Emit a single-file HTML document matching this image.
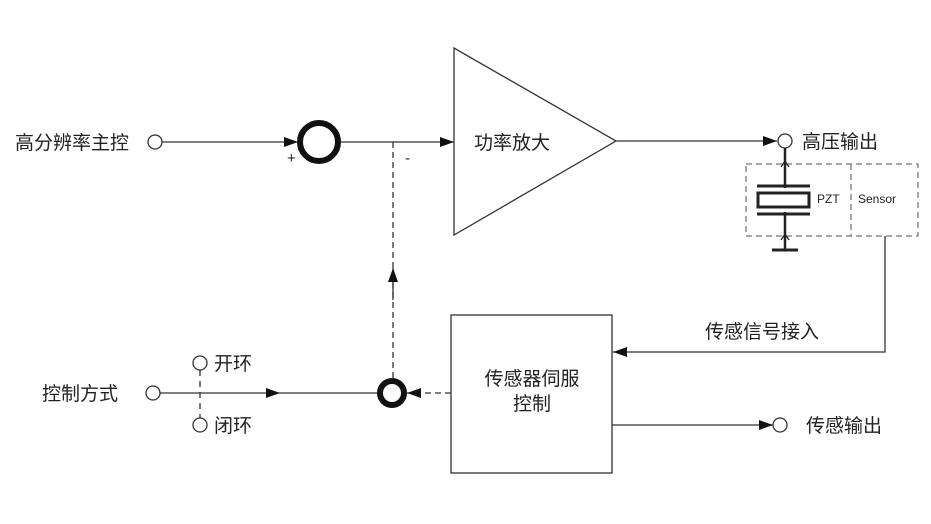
<!DOCTYPE html>
<html><head><meta charset="utf-8"><style>
html,body{margin:0;padding:0;background:#fff;}
svg{display:block;}
text{font-family:"Liberation Sans","Noto Sans CJK SC",sans-serif;fill:#222;}
</style></head><body>
<svg width="931" height="524" viewBox="0 0 931 524" xmlns="http://www.w3.org/2000/svg">
<defs>
<marker id="a" markerWidth="14" markerHeight="10" refX="14" refY="5" orient="auto" markerUnits="userSpaceOnUse">
<path d="M0,0 L14,5 L0,10 Z" fill="#111"/></marker>
</defs>
<g stroke="#333" stroke-width="1.3" fill="none">
<circle cx="155" cy="142" r="7" fill="#fff"/>
<line x1="162" y1="142" x2="298" y2="142" marker-end="url(#a)"/>
<line x1="341" y1="142" x2="454" y2="142" marker-end="url(#a)"/>
<polygon points="454,48 454,235 616,141" fill="#fff"/>
<line x1="616" y1="141" x2="777" y2="141" marker-end="url(#a)"/>
<circle cx="785" cy="141" r="7" fill="#fff"/>
<line x1="393" y1="142" x2="393" y2="379" stroke-dasharray="6,4"/>
<line x1="393" y1="300" x2="393" y2="268" marker-end="url(#a)"/>
<line x1="451" y1="393" x2="407" y2="393" stroke-dasharray="6,4" marker-end="url(#a)"/>
<rect x="746" y="164" width="172" height="72" stroke="#777" stroke-dasharray="6,4"/>
<line x1="851" y1="164" x2="851" y2="236" stroke="#777" stroke-dasharray="6,4"/>
<line x1="785" y1="148" x2="785" y2="188" stroke="#222" stroke-width="2.5"/>
<line x1="785" y1="212" x2="785" y2="250" stroke="#222" stroke-width="2.5"/>
<path d="M781,167 L785,161 L789,167 M781,240 L785,234 L789,240" stroke="#222"/>
<line x1="757" y1="186" x2="810" y2="186" stroke="#222" stroke-width="3"/>
<rect x="758" y="193" width="51" height="14" stroke="#222" stroke-width="3"/>
<line x1="757" y1="214" x2="810" y2="214" stroke="#222" stroke-width="3"/>
<line x1="772" y1="250" x2="798" y2="250" stroke="#222" stroke-width="3"/>
<polyline points="885,236 885,352 613,352" marker-end="url(#a)"/>
<rect x="451" y="315" width="161" height="158" fill="#fff"/>
<line x1="612" y1="425" x2="773" y2="425" marker-end="url(#a)"/>
<circle cx="780" cy="425" r="7" fill="#fff"/>
<circle cx="153" cy="393" r="7" fill="#fff"/>
<line x1="160" y1="393" x2="280" y2="393" marker-end="url(#a)"/>
<line x1="280" y1="393" x2="380" y2="393"/>
<circle cx="200" cy="363" r="7" fill="#fff"/>
<circle cx="200" cy="425" r="7" fill="#fff"/>
<line x1="200" y1="370" x2="200" y2="418" stroke-dasharray="6,5"/>
</g>
<circle cx="319" cy="142" r="19" fill="none" stroke="#111" stroke-width="6"/>
<circle cx="392" cy="393" r="12" fill="none" stroke="#111" stroke-width="6"/>
<g font-size="19">
<text x="15" y="149">高分辨率主控</text>
<text x="474" y="149">功率放大</text>
<text x="802" y="148">高压输出</text>
<text x="705" y="338">传感信号接入</text>
<text x="532" y="385" text-anchor="middle">传感器伺服</text>
<text x="532" y="410" text-anchor="middle">控制</text>
<text x="806" y="432">传感输出</text>
<text x="42" y="400">控制方式</text>
<text x="214" y="370">开环</text>
<text x="214" y="432">闭环</text>
</g>
<text x="817" y="203" font-size="12">PZT</text>
<text x="858" y="203" font-size="12">Sensor</text>
<text x="287" y="163" font-size="15" fill="#555">+</text>
<text x="405" y="163" font-size="15" fill="#555">-</text>
</svg>
</body></html>
